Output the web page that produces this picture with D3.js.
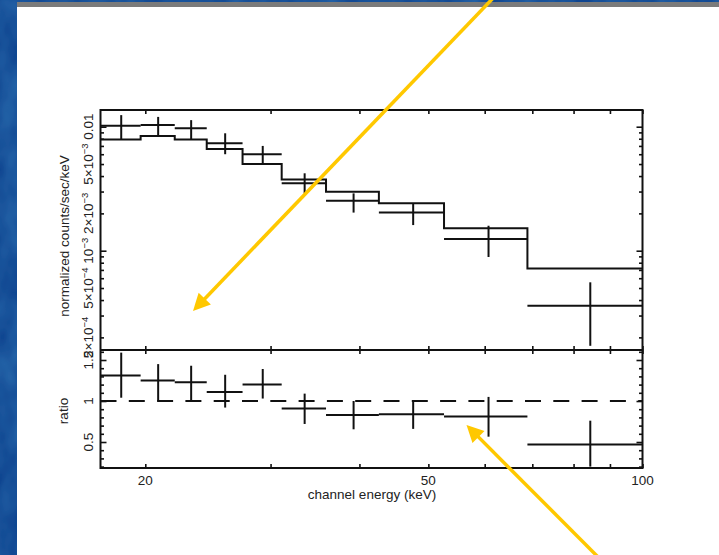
<!DOCTYPE html>
<html>
<head>
<meta charset="utf-8">
<script src="https://cdn.jsdelivr.net/npm/d3@7"></script>
<style>
  html, body { margin: 0; padding: 0; background: #fff; }
  svg { display: block; }
  text { font-family: "Liberation Sans", Arial, Helvetica, sans-serif; fill: #222; }
</style>
</head>
<body>
<svg id="chart" width="719" height="555"></svg>
<script>
// Spectral bins (keV)
const binLo = [17.3, 19.7, 22.0, 24.4, 27.4, 31.1, 35.9, 42.6, 52.6, 68.9];
const binHi = [19.7, 22.0, 24.4, 27.4, 31.1, 35.9, 42.6, 52.6, 68.9, 100];

// Normalized counts/sec/keV: data, 1-sigma bounds, folded model
const counts     = [1.02e-2, 1.03e-2, 9.7e-3, 7.35e-3, 6.0e-3, 3.5e-3, 2.53e-3, 2.03e-3, 1.24e-3, 3.6e-4];
const countsLow  = [7.9e-3, 8.4e-3, 7.9e-3, 6.0e-3, 5.07e-3, 2.9e-3, 2.03e-3, 1.61e-3, 8.9e-4, 1.71e-4];
const countsHigh = [1.24e-2, 1.2e-2, 1.13e-2, 8.85e-3, 7.0e-3, 4.21e-3, 2.9e-3, 2.38e-3, 1.59e-3, 5.56e-4];
const model      = [7.9e-3, 8.4e-3, 7.9e-3, 6.6e-3, 5.0e-3, 3.76e-3, 2.99e-3, 2.41e-3, 1.52e-3, 7.2e-4];

// Data / model ratio with bounds
const ratio     = [1.31, 1.25, 1.23, 1.11, 1.20, 0.91, 0.83, 0.84, 0.81, 0.47];
const ratioLow  = [1.04, 1.00, 1.00, 0.92, 1.03, 0.72, 0.655, 0.66, 0.565, 0.20];
const ratioHigh = [1.59, 1.45, 1.43, 1.32, 1.39, 1.09, 1.00, 1.00, 1.05, 0.76];

// Axis ticks and labels
const energyTicks = [20, 30, 40, 50, 60, 70, 80, 90, 100];
const energyLabels = [20, 50, 100];
const countsLabelValues = [2e-4, 5e-4, 1e-3, 2e-3, 5e-3, 1e-2];
const ratioLabelValues = [0.5, 1, 1.5];

const svg = d3.select("#chart");
const W = 719, H = 555;

// ---------- slide background ----------
const defs = svg.append("defs");
const tex = defs.append("filter").attr("id", "mottle")
  .attr("x", 0).attr("y", 0).attr("width", "100%").attr("height", "100%");
tex.append("feTurbulence").attr("type", "fractalNoise")
  .attr("baseFrequency", "0.035 0.02").attr("numOctaves", 3).attr("seed", 7).attr("result", "n");
tex.append("feColorMatrix").attr("in", "n").attr("type", "matrix")
  .attr("values", "0 0 0 0 0.04  0 0 0 0 0.22  0 0 0 0 0.52  0.9 0 0 0 -0.25")
  .attr("result", "c");
tex.append("feComposite").attr("in", "c").attr("in2", "SourceGraphic").attr("operator", "in");

const bg = svg.append("g");
bg.append("rect").attr("x", 0).attr("y", 0).attr("width", W).attr("height", H).attr("fill", "#0f4590");
bg.append("rect").attr("x", 0).attr("y", 0).attr("width", W).attr("height", H)
  .attr("fill", "#fff").attr("filter", "url(#mottle)");
bg.append("rect").attr("x", 17).attr("y", 2).attr("width", W - 17).attr("height", 5).attr("fill", "#7b7b7b");
bg.append("rect").attr("x", 17).attr("y", 7).attr("width", W - 17).attr("height", H - 7).attr("fill", "#fff");

// ---------- plot geometry ----------
const pLeft = 100.5, pRight = 642.5, pTop = 110, pMid = 350, pBottom = 468;

const x = d3.scaleLog().domain([17.3, 100]).range([pLeft, pRight]);
const yC = d3.scaleLog().domain([1.582e-4, 1.364e-2]).range([pMid, pTop]);
const yR = d3.scaleLinear().domain([0.183, 1.622]).range([pBottom, pMid]);

const ink = "#111";
const plot = svg.append("g");

// ---------- tick marks ----------
function decadeTicks(domain) {
  const out = [];
  for (let e = -5; e <= -1; e++)
    for (let k = 1; k <= 9; k++) {
      const v = k * Math.pow(10, e);
      if (v >= domain[0] && v <= domain[1]) out.push(v);
    }
  return out;
}
const cAll = decadeTicks(yC.domain());
const cMajor = cAll.filter(v => Math.abs(Math.log10(v) - Math.round(Math.log10(v))) < 1e-9);
const cMinor = cAll.filter(v => !cMajor.includes(v));

const rAll = d3.range(2, 17).map(d => d / 10);
const rMajor = ratioLabelValues;
const rMinor = rAll.filter(v => !rMajor.some(m => Math.abs(m - v) < 1e-9));

function tickAxis(axisFn, scale, values, size, tx, ty) {
  const g = plot.append("g").attr("transform", `translate(${tx},${ty})`)
    .call(axisFn(scale).tickValues(values).tickSize(size).tickFormat(""));
  g.select(".domain").remove();
  g.selectAll(".tick line").attr("stroke", ink).attr("stroke-width", 1.6);
  return g;
}
// counts panel, left/right
tickAxis(d3.axisLeft, yC, cMinor, -3.5, pLeft, 0);
tickAxis(d3.axisLeft, yC, cMajor, -6, pLeft, 0);
tickAxis(d3.axisRight, yC, cMinor, -3.5, pRight, 0);
tickAxis(d3.axisRight, yC, cMajor, -6, pRight, 0);
// ratio panel, left/right
tickAxis(d3.axisLeft, yR, rMinor, -3.5, pLeft, 0);
tickAxis(d3.axisLeft, yR, rMajor, -6, pLeft, 0);
tickAxis(d3.axisRight, yR, rMinor, -3.5, pRight, 0);
tickAxis(d3.axisRight, yR, rMajor, -6, pRight, 0);
// energy ticks on all horizontal frame edges
tickAxis(d3.axisTop, x, energyTicks, -4, 0, pTop);
tickAxis(d3.axisBottom, x, energyTicks, -4, 0, pMid);
tickAxis(d3.axisTop, x, energyTicks, -4, 0, pMid);
tickAxis(d3.axisBottom, x, energyTicks, -4, 0, pBottom);

// ---------- frames ----------
plot.append("rect").attr("x", pLeft).attr("y", pTop).attr("width", pRight - pLeft).attr("height", pBottom - pTop)
  .attr("fill", "none").attr("stroke", ink).attr("stroke-width", 2);
plot.append("line").attr("x1", pLeft).attr("x2", pRight).attr("y1", pMid).attr("y2", pMid)
  .attr("stroke", ink).attr("stroke-width", 2);

const idx = d3.range(binLo.length);
const centre = i => (binLo[i] + binHi[i]) / 2;

// ---------- model step histogram ----------
const stepPts = [];
idx.forEach(i => { stepPts.push([binLo[i], model[i]]); stepPts.push([binHi[i], model[i]]); });
plot.append("path")
  .attr("d", d3.line().x(d => x(d[0])).y(d => yC(d[1]))(stepPts))
  .attr("fill", "none").attr("stroke", ink).attr("stroke-width", 2).attr("stroke-linejoin", "miter");

// ---------- data crosses ----------
function crosses(yScale, val, lo, hi) {
  const g = plot.append("g").attr("stroke", ink).attr("stroke-width", 2);
  g.selectAll("line.h").data(idx).join("line").attr("class", "h")
    .attr("x1", i => x(binLo[i])).attr("x2", i => x(binHi[i]))
    .attr("y1", i => yScale(val[i])).attr("y2", i => yScale(val[i]));
  g.selectAll("line.v").data(idx).join("line").attr("class", "v")
    .attr("x1", i => x(centre(i))).attr("x2", i => x(centre(i)))
    .attr("y1", i => yScale(lo[i])).attr("y2", i => yScale(hi[i]));
}
crosses(yC, counts, countsLow, countsHigh);

// ratio reference line
plot.append("line").attr("x1", pLeft).attr("x2", pRight).attr("y1", yR(1)).attr("y2", yR(1))
  .attr("stroke", ink).attr("stroke-width", 2).attr("stroke-dasharray", "16 12.3");
crosses(yR, ratio, ratioLow, ratioHigh);

// ---------- labels ----------
const labels = svg.append("g");
const fs = 13.5;

energyLabels.forEach(v => {
  labels.append("text").attr("x", x(v)).attr("y", 484.5)
    .attr("text-anchor", "middle").attr("font-size", fs).text(v);
});
labels.append("text").attr("x", 372).attr("y", 499)
  .attr("text-anchor", "middle").attr("font-size", fs).text("channel energy (keV)");

function countsLabel(v) {
  const e = Math.floor(Math.log10(v) + 1e-9);
  const m = Math.round(v / Math.pow(10, e));
  if (e === -2 && m === 1) return { base: "0.01", sup: null };
  return { base: (m === 1 ? "" : m + "×") + "10", sup: "\u2212" + (-e) };
}
countsLabelValues.forEach(v => {
  const p = countsLabel(v);
  const t = labels.append("text")
    .attr("transform", `translate(92.5,${yC(v)}) rotate(-90)`)
    .attr("text-anchor", "middle").attr("font-size", fs);
  t.append("tspan").text(p.base);
  if (p.sup) t.append("tspan").attr("dy", -5).attr("font-size", 9.5).text(p.sup);
});
ratioLabelValues.forEach(v => {
  labels.append("text")
    .attr("transform", `translate(92.5,${yR(v)}) rotate(-90)`)
    .attr("text-anchor", "middle").attr("font-size", fs).text(v);
});
labels.append("text").attr("transform", `translate(69,${(pTop + pMid) / 2 + 6}) rotate(-90)`)
  .attr("text-anchor", "middle").attr("font-size", fs).text("normalized counts/sec/keV");
labels.append("text").attr("transform", `translate(68,${(pMid + pBottom) / 2 + 2}) rotate(-90)`)
  .attr("text-anchor", "middle").attr("font-size", fs).text("ratio");

// ---------- callout arrows ----------
const arrows = [
  { from: [497, -6], to: [193, 311] },
  { from: [607, 566], to: [466.5, 425] }
];
const yellow = "#ffc800";
arrows.forEach(a => {
  const dx = a.to[0] - a.from[0], dy = a.to[1] - a.from[1];
  const len = Math.hypot(dx, dy), ux = dx / len, uy = dy / len;
  const headL = 17, headW = 8.5;
  const bx = a.to[0] - ux * headL, by = a.to[1] - uy * headL;
  svg.append("line").attr("x1", a.from[0]).attr("y1", a.from[1])
    .attr("x2", bx + ux * 2).attr("y2", by + uy * 2)
    .attr("stroke", yellow).attr("stroke-width", 3.5);
  svg.append("path")
    .attr("d", `M${a.to[0]},${a.to[1]}L${bx - uy * headW},${by + ux * headW}L${bx + uy * headW},${by - ux * headW}Z`)
    .attr("fill", yellow);
});
</script>
</body>
</html>
